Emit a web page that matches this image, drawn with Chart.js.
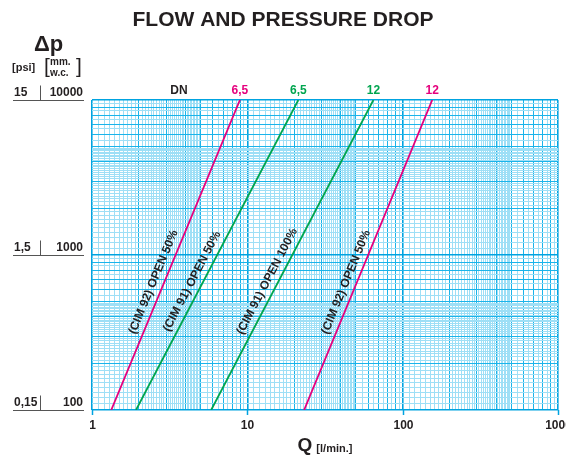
<!DOCTYPE html>
<html>
<head>
<meta charset="utf-8">
<script src="https://cdn.jsdelivr.net/npm/chart.js@4.4.0/dist/chart.umd.min.js"></script>
<style>
  html, body { margin: 0; padding: 0; background: #ffffff; }
  #wrap { width: 566px; height: 457px; }
</style>
</head>
<body>
<div id="wrap"><canvas id="flow" width="566" height="457"></canvas></div>
<script>
const chartTitle = "FLOW AND PRESSURE DROP";

// pressure drop (mm w.c.) at both ends of every curve
const dpEnds = [100, 10000];
const cim92Dn65 = [1.33, 8.96];
const cim91Dn65 = [1.92, 21.3];
const cim91Dn12 = [5.85, 64.8];
const cim92Dn12 = [23.2, 155];

const curveNames = ["(CIM 92) OPEN 50%", "(CIM 91) OPEN 50%", "(CIM 91) OPEN 100%", "(CIM 92) OPEN 50%"];
const dnLabels = ["6,5", "6,5", "12", "12"];
const curveColours = ["#e5007d", "#00a54f", "#00a54f", "#e5007d"];

const xTickValues = [1, 10, 100, 1000];
const yTickValues = [100, 1000, 10000];
const yPsiLabels = ["0,15", "1,5", "15"];
const yMmLabels = ["100", "1000", "10000"];

const FONT = "'Liberation Sans', Arial, sans-serif";
const INK = "#231f20";

// log paper lines: 0.1 steps up to 5, 0.5 steps to 10, in each decade
function logGrid(from, to) {
  const out = [];
  for (let dec = from; dec < to; dec *= 10) {
    for (let m = 10; m < 50; m++) out.push(dec * m / 10);
    for (let m = 50; m < 100; m += 5) out.push(dec * m / 10);
  }
  out.push(to);
  return out;
}

function gridKind(v) {
  const p = Math.pow(10, Math.floor(Math.log10(v) + 1e-9));
  const m = v / p;
  if (Math.abs(m - 1) < 1e-6) return 2;
  if (Math.abs(m - Math.round(m)) < 1e-6) return 1;
  return 0;
}
const gridColour = (c) => ["#9edff6", "#1ab4ea", "#00a3e0"][gridKind(c.tick.value)];
const gridWidth = (c) => [1, 1, 1.6][gridKind(c.tick.value)];

const curves = [cim92Dn65, cim91Dn65, cim91Dn12, cim92Dn12];

const datasets = curves.map((q, i) => ({
  data: q.map((v, k) => ({ x: v, y: dpEnds[k] })),
  borderColor: curveColours[i],
  borderWidth: 1.8,
  pointRadius: 0,
  showLine: true,
}));

const paperText = {
  id: "paperText",
  afterDraw(chart) {
    const { ctx, scales: { x, y }, chartArea } = chart;
    ctx.save();
    ctx.fillStyle = INK;
    ctx.textBaseline = "middle";

    // title
    ctx.textAlign = "center";
    ctx.font = "bold 21px " + FONT;
    ctx.fillText(chartTitle, 283, 20);

    // y axis heading
    ctx.textAlign = "left";
    ctx.font = "bold 22px " + FONT;
    ctx.fillText("\u0394p", 34, 45);
    ctx.font = "bold 11px " + FONT;
    ctx.fillText("[psi]", 12, 68);
    ctx.font = "bold 10px " + FONT;
    ctx.fillText("mm.", 50, 62);
    ctx.fillText("w.c.", 50, 73);
    ctx.font = "21px " + FONT;
    ctx.fillText("[", 44, 67);
    ctx.fillText("]", 76, 67);

    // y tick labels, both units
    yTickValues.forEach((v, i) => {
      const py = Math.round(y.getPixelForValue(v)) + 0.5;
      ctx.font = "bold 12px " + FONT;
      ctx.textAlign = "left";
      ctx.fillText(yPsiLabels[i], 14, py - 8);
      ctx.textAlign = "right";
      ctx.fillText(yMmLabels[i], 83, py - 8);
      ctx.strokeStyle = "#555555";
      ctx.lineWidth = 1;
      ctx.beginPath();
      ctx.moveTo(13, py);
      ctx.lineTo(84, py);
      ctx.moveTo(40.5, py - 15);
      ctx.lineTo(40.5, py);
      ctx.stroke();
    });

    // x tick labels and marks
    ctx.textAlign = "center";
    ctx.font = "bold 12px " + FONT;
    xTickValues.forEach((v) => {
      const px = Math.round(x.getPixelForValue(v)) + 0.5;
      ctx.strokeStyle = "#00a3e0";
      ctx.lineWidth = 1.5;
      ctx.beginPath();
      ctx.moveTo(px, chartArea.bottom);
      ctx.lineTo(px, chartArea.bottom + 5);
      ctx.stroke();
      ctx.fillText(String(v), px, 426);
    });

    // x axis title
    const cx = (chartArea.left + chartArea.right) / 2;
    ctx.textAlign = "left";
    ctx.font = "bold 19px " + FONT;
    const qw = ctx.measureText("Q").width;
    ctx.font = "bold 11px " + FONT;
    const uw = ctx.measureText("[l/min.]").width;
    const start = cx - (qw + 4 + uw) / 2;
    ctx.font = "bold 19px " + FONT;
    ctx.fillText("Q", start, 446);
    ctx.font = "bold 11px " + FONT;
    ctx.fillText("[l/min.]", start + qw + 4, 449);

    // DN header
    ctx.textAlign = "center";
    ctx.font = "bold 12px " + FONT;
    ctx.fillText("DN", 179, 91);
    curves.forEach((q, i) => {
      ctx.fillStyle = curveColours[i];
      ctx.fillText(dnLabels[i], x.getPixelForValue(q[1]), 91);
    });

    // curve names along the lines
    ctx.fillStyle = INK;
    ctx.font = "bold 12px " + FONT;
    curves.forEach((q, i) => {
      const x0 = x.getPixelForValue(q[0]), y0 = y.getPixelForValue(dpEnds[0]);
      const x1 = x.getPixelForValue(q[1]), y1 = y.getPixelForValue(dpEnds[1]);
      const dx = x1 - x0, dy = y1 - y0, len = Math.hypot(dx, dy);
      const f = 0.4;
      const nx = dy / len, ny = -dx / len;
      const px = x0 + dx * f + nx * 10;
      const py = y0 + dy * f + ny * 10;
      ctx.save();
      ctx.translate(px, py);
      ctx.rotate(Math.atan2(dy, dx));
      ctx.textAlign = "center";
      ctx.fillText(curveNames[i], 0, 0);
      ctx.restore();
    });
    ctx.restore();
  }
};

new Chart(document.getElementById("flow"), {
  type: "scatter",
  data: { datasets },
  plugins: [paperText],
  options: {
    responsive: false,
    animation: false,
    layout: { padding: { left: 92, right: 8, top: 100, bottom: 47 } },
    plugins: { legend: { display: false }, tooltip: { enabled: false } },
    scales: {
      x: {
        type: "logarithmic",
        min: 1,
        max: 1000,
        afterBuildTicks: (axis) => { axis.ticks = logGrid(1, 1000).map(v => ({ value: v })); },
        ticks: { display: false },
        border: { display: false },
        grid: { drawTicks: false, color: gridColour, lineWidth: gridWidth },
      },
      y: {
        type: "logarithmic",
        min: 100,
        max: 10000,
        afterBuildTicks: (axis) => { axis.ticks = logGrid(100, 10000).map(v => ({ value: v })); },
        ticks: { display: false },
        border: { display: false },
        grid: { drawTicks: false, color: gridColour, lineWidth: gridWidth },
      },
    },
  },
});
</script>
</body>
</html>
